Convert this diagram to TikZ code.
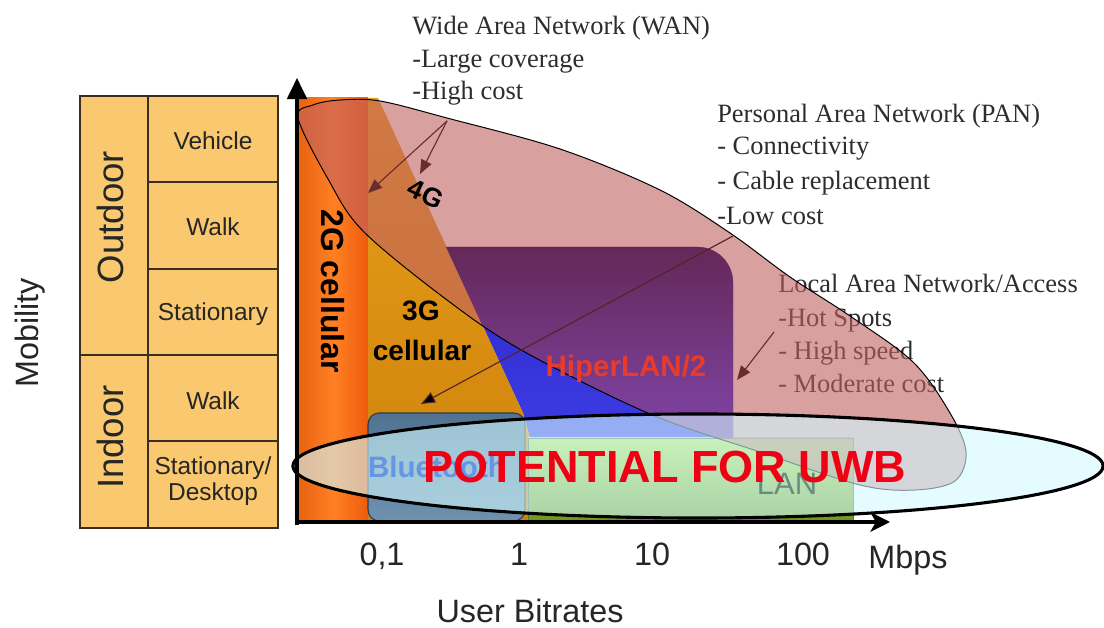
\documentclass[tikz,border=0pt]{standalone}
\usepackage{fontspec}
\setmainfont{Liberation Serif}
\setsansfont{Liberation Sans}
\usetikzlibrary{arrows.meta}
\definecolor{tabfill}{RGB}{250,200,110}
\definecolor{tabline}{RGB}{60,45,30}
\definecolor{sertext}{RGB}{45,45,45}
\definecolor{orA}{RGB}{232,98,18}
\definecolor{orB}{RGB}{255,128,36}
\definecolor{orC}{RGB}{238,92,12}
\definecolor{goldT}{RGB}{232,158,25}
\definecolor{goldB}{RGB}{205,130,12}
\definecolor{hipBlueT}{RGB}{45,40,200}
\definecolor{hipBlueB}{RGB}{60,60,228}
\definecolor{purpT}{RGB}{100,40,88}
\definecolor{purpB}{RGB}{128,68,168}
\definecolor{btT}{RGB}{80,115,145}
\definecolor{btB}{RGB}{110,145,175}
\definecolor{btLine}{RGB}{50,60,70}
\definecolor{lanT}{RGB}{185,228,85}
\definecolor{lanB}{RGB}{110,150,30}
\definecolor{lanLine}{RGB}{90,110,70}
\definecolor{pinkov}{RGB}{193,97,97}
\definecolor{uwbov}{RGB}{210,250,255}
\definecolor{arrbrown}{RGB}{105,45,45}
\definecolor{hipred}{RGB}{230,60,45}
\definecolor{btblue}{RGB}{100,150,228}
\definecolor{lantxt}{RGB}{105,140,130}
\definecolor{uwbred}{RGB}{240,0,20}
\newcommand{\pinkshape}[1]{\path[#1] plot[smooth cycle, tension=0.55] coordinates {(298,118) (313,105) (340,100) (380,101) (447,118) (560,149) (660,190) (730,233) (790,277) (850,316) (913,362) (950,413) (966,452) (955,481) (915,490) (860,485) (760,452) (650,414) (523,351) (447,300) (363,231) (328,179)};}
\newcommand{\hiperpath}{(446,247) -- (698,247) .. controls (717,247) and (733,263) .. (733,282) -- (733,438) -- (530,438) -- (523,413) -- cycle}
\tikzset{
  tabl/.style={draw=tabline, line width=0.9pt},
  tabtxt/.style={font=\sffamily\fontsize{17.4}{18.5}\selectfont, text=black!85, inner sep=0pt, align=center},
  bigtab/.style={font=\sffamily\fontsize{26}{28}\selectfont, text=black!85, inner sep=0pt, rotate=90},
  sertxt/.style={font=\rmfamily\fontsize{18.8}{22}\selectfont, text=sertext, inner sep=0pt, anchor=base west},
  axtxt/.style={font=\sffamily\fontsize{23}{26}\selectfont, inner sep=0pt, anchor=base, text=black!85},
  boldlbl/.style={font=\sffamily\bfseries\fontsize{20}{22}\selectfont, inner sep=0pt, text=black},
  axisline/.style={line width=2.2pt, draw=black},
  thinarrow/.style={line width=0.8pt, draw=arrbrown, -{Triangle[length=10pt,width=8pt,fill=arrbrown]}},
}
\begin{document}
\begin{tikzpicture}[x=0.025cm,y=-0.025cm]
\useasboundingbox (0,0) rectangle (1104,628);
\fill[white] (0,0) rectangle (1104,628);

% ---- left table ----
\draw[tabl, fill=tabfill] (80,96) rectangle (278,528);
\draw[tabl] (148,96) -- (148,528);
\draw[tabl] (80,355) -- (278,355);
\draw[tabl] (148,182) -- (278,182);
\draw[tabl] (148,269) -- (278,269);
\draw[tabl] (148,441) -- (278,441);
\node[tabtxt] (veh) at (213,141) {Vehicle};
\node[tabtxt] (walk1) at (213,227) {Walk};
\node[tabtxt] (stat1) at (213,314) {Stationary};
\node[tabtxt] (walk2) at (213,401) {Walk};
\node[tabtxt] (stat2) at (213,481) {Stationary/\\Desktop};
\node[bigtab] (outdoor) at (110,217) {Outdoor};
\node[bigtab] (indoor) at (110,437) {Indoor};
\node[font=\sffamily\fontsize{23}{26}\selectfont, text=black!85, inner sep=0pt, rotate=90] (mob) at (30,333) {Mobility};

% ---- serif annotations ----
\node[sertxt] (wan1) at (412,35) {Wide Area Network (WAN)};
\node[sertxt] (wan2) at (412,68) {-Large coverage};
\node[sertxt] (wan3) at (412,100) {-High cost};
\node[sertxt] (pan1) at (717,123) {Personal Area Network (PAN)};
\node[sertxt] (pan2) at (717,155) {- Connectivity};
\node[sertxt] (pan3) at (717,190) {- Cable replacement};
\node[sertxt] (pan4) at (717,225) {-Low cost};
\node[sertxt] (lan1) at (778,293) {Local Area Network/Access};
\node[sertxt] (lan2) at (778,327) {-Hot Spots};
\node[sertxt] (lan3) at (778,360) {- High speed};
\node[sertxt] (lan4) at (778,393) {- Moderate cost};

% ---- regions ----
\shade[top color=hipBlueT, bottom color=hipBlueB] \hiperpath;
\shade[left color=orA, right color=orC, middle color=orB] (298,98) rectangle (368,522);
\shade[top color=goldT, bottom color=goldB] (368,98) -- (378,98) -- (523,413) -- (530,438) -- (534,522) -- (368,522) -- cycle;
\shade[top color=btT, bottom color=btB, draw=btLine, line width=0.8pt, rounded corners=8pt] (368,413) rectangle (525,521);
\shade[top color=lanT, bottom color=lanB, draw=lanLine, line width=0.6pt] (528,438) rectangle (853,521);

% pink overlay
\pinkshape{fill=pinkov, fill opacity=0.6}
\begin{scope}
  \pinkshape{clip}
  \shade[top color=purpT, bottom color=purpB] \hiperpath;
\end{scope}
\pinkshape{draw=black, line width=0.7pt}

% labels in regions
\node[boldlbl, font=\sffamily\bfseries\fontsize{22.7}{24}\selectfont, rotate=-90] (g2) at (333,291) {2G cellular};
\node[boldlbl] (g3a) at (421,311) {3G};
\node[boldlbl] (g3b) at (422,350) {cellular};
\node[boldlbl, font=\sffamily\bfseries\fontsize{21}{22}\selectfont, text=hipred] (hiper) at (626,369) {HiperLAN/2};

% UWB ellipse
\draw[fill=uwbov, fill opacity=0.6, draw=black, line width=2.2pt] (698,466) ellipse [x radius=10.125cm, y radius=1.3cm];
\node[boldlbl, font=\sffamily\bfseries\fontsize{21}{22}\selectfont, text=btblue] (bt) at (437,467) {Bluetooth};
\node[inner sep=0pt, font=\sffamily\fontsize{22}{24}\selectfont, text=lantxt] (lan) at (787,484) {LAN};
\node[inner sep=0pt, font=\sffamily\bfseries\fontsize{32}{34}\selectfont, text=uwbred] (uwb) at (665,467) {POTENTIAL FOR UWB};

% 4G and arrows
\node[boldlbl, font=\sffamily\bfseries\fontsize{19}{20}\selectfont, rotate=-25] (g4) at (426,194) {4G};
\coordinate (hc) at (447,121);
\coordinate (hcA) at (368,193);
\coordinate (hcB) at (420,174);
\draw[thinarrow] (hc) -- (hcA);
\draw[thinarrow] (hc) -- (hcB);
\coordinate (lc) at (733,236);
\coordinate (lcT) at (421,404);
\draw[line width=0.8pt, draw=arrbrown!80!black, -{Triangle[length=10pt,width=8pt,fill=black]}] (lc) -- (lcT);
\coordinate (ls) at (774,332);
\coordinate (lsT) at (737,380);
\draw[thinarrow] (ls) -- (lsT);

% axes
\coordinate (o) at (297,522);
\coordinate (ybot) at (297,525);
\coordinate (ytop) at (297,78);
\coordinate (xend) at (890,522);
\draw[axisline, -{Triangle[length=15pt,width=14pt]}] (ybot) -- (ytop);
\draw[axisline, -{Stealth[length=14pt,width=14pt,inset=4pt]}] (o) -- (xend);

\node[axtxt] (t01) at (382,565) {0,1};
\node[axtxt] (t1) at (519,565) {1};
\node[axtxt] (t10) at (652,565) {10};
\node[axtxt] (t100) at (803,565) {100};
\node[axtxt] (mbps) at (908,568) {Mbps};
\node[axtxt] (ub) at (530,622) {User Bitrates};
\end{tikzpicture}
\end{document}
